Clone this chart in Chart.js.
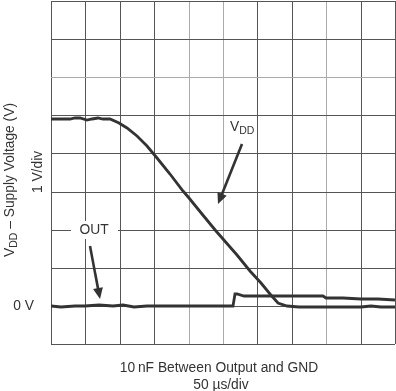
<!DOCTYPE html>
<html>
<head>
<meta charset="utf-8">
<script src="https://cdn.jsdelivr.net/npm/chart.js@4"></script>
<style>
html,body{margin:0;padding:0;background:#fff;}
#wrap{width:396px;height:391px;}
</style>
</head>
<body>
<div id="wrap"><canvas id="c" width="396" height="391"></canvas></div>
<script>
// time in divisions (50 µs/div), voltage in V (1 V/div)
const vddTime = [0, 0.25, 0.55, 0.7, 0.85, 1.05, 1.2, 1.37, 1.5, 1.72, 1.98, 2.21, 2.5, 2.79, 3.08, 3.45, 3.84, 4.01, 4.4, 4.8, 5.0, 5.4, 5.78, 6.1, 6.37, 6.6, 6.86, 7.2, 7.6, 8.0, 8.5, 9.0, 9.3, 9.6, 10];
const vddVolts = [4.9, 4.9, 4.9, 4.93, 4.92, 4.87, 4.9, 4.93, 4.9, 4.9, 4.79, 4.66, 4.45, 4.19, 3.87, 3.45, 3.01, 2.83, 2.4, 1.96, 1.75, 1.33, 0.92, 0.6, 0.31, 0.08, 0.0, -0.03, -0.02, -0.03, -0.03, -0.02, 0.0, -0.03, -0.02];
const outTime = [0, 0.3, 0.7, 1.0, 1.4, 1.8, 2.1, 2.4, 2.8, 3.2, 3.6, 4.0, 4.4, 4.8, 5.1, 5.29, 5.36, 5.42, 5.6, 6.0, 6.5, 7.0, 7.5, 7.9, 8.0, 8.5, 9.0, 9.5, 10];
const outVolts = [0, -0.02, 0.01, 0, 0.02, 0.01, 0.02, -0.02, 0.01, -0.01, 0.01, 0, -0.01, 0.01, 0, 0, 0.3, 0.31, 0.27, 0.27, 0.26, 0.27, 0.26, 0.26, 0.21, 0.2, 0.19, 0.18, 0.16];
const xTicks = [0, 1, 2, 3, 4, 5, 6, 7, 8, 9, 10];
const yTicks = [-1, 0, 1, 2, 3, 4, 5, 6, 7, 8];

const FONT = '"Liberation Sans", Arial, Helvetica, sans-serif';
const INK = '#333';
const FS = '13.8px ';
const FSUB = '10.5px ';
const lightX = [4, 5, 8];
const lightY = [6];

const annot = {
  id: 'annot',
  beforeDatasetsDraw(chart) {
    const {ctx, scales:{x, y}} = chart;
    ctx.save();
    ctx.fillStyle = '#fff';
    const cx = x.getPixelForValue(1.25), cy = y.getPixelForValue(2);
    ctx.fillRect(cx - 23, cy - 9, 47, 18);
    ctx.restore();
  },
  afterDraw(chart) {
    const {ctx, scales:{x, y}, chartArea} = chart;
    ctx.save();
    ctx.fillStyle = INK;
    ctx.strokeStyle = INK;
    // OUT label
    ctx.font = FS + FONT;
    ctx.textAlign = 'center';
    ctx.textBaseline = 'middle';
    ctx.fillText('OUT', x.getPixelForValue(1.25), y.getPixelForValue(2));
    // VDD label
    ctx.textAlign = 'left';
    ctx.textBaseline = 'alphabetic';
    const vx = x.getPixelForValue(5.2), vy = y.getPixelForValue(4.58);
    ctx.font = FS + FONT;
    ctx.fillText('V', vx, vy);
    const vw = ctx.measureText('V').width;
    ctx.font = FSUB + FONT;
    ctx.fillText('DD', vx + vw, vy + 3);
    // arrows
    function arrow(x0, y0, x1, y1) {
      const px0 = x.getPixelForValue(x0), py0 = y.getPixelForValue(y0);
      const px1 = x.getPixelForValue(x1), py1 = y.getPixelForValue(y1);
      const a = Math.atan2(py1 - py0, px1 - px0);
      const L = 11, W = 5;
      ctx.lineWidth = 2.6;
      ctx.beginPath();
      ctx.moveTo(px0, py0);
      ctx.lineTo(px1 - Math.cos(a) * (L - 2), py1 - Math.sin(a) * (L - 2));
      ctx.stroke();
      ctx.beginPath();
      ctx.moveTo(px1, py1);
      ctx.lineTo(px1 - Math.cos(a) * L - Math.sin(a) * W, py1 - Math.sin(a) * L + Math.cos(a) * W);
      ctx.lineTo(px1 - Math.cos(a) * L + Math.sin(a) * W, py1 - Math.sin(a) * L - Math.cos(a) * W);
      ctx.closePath();
      ctx.fill();
    }
    arrow(5.55, 4.24, 4.85, 2.67);
    arrow(1.13, 1.57, 1.42, 0.18);
    // 0 V
    ctx.font = FS + FONT;
    ctx.textAlign = 'right';
    ctx.textBaseline = 'middle';
    ctx.fillText('0 V', 34, y.getPixelForValue(0));
    // bottom texts
    ctx.textAlign = 'center';
    ctx.textBaseline = 'alphabetic';
    const mid = (chartArea.left + chartArea.right) / 2 - 4;
    ctx.fillText('10\u2009nF Between Output and GND', mid, 372);
    ctx.fillText('50 \u00b5s/div', mid + 2, 389);
    // rotated: 1 V/div
    ctx.save();
    ctx.translate(42, 172);
    ctx.rotate(-Math.PI / 2);
    ctx.textAlign = 'center';
    ctx.fillText('1 V/div', 0, 0);
    ctx.restore();
    // rotated y title with subscript
    ctx.save();
    ctx.translate(14, 180);
    ctx.rotate(-Math.PI / 2);
    ctx.textAlign = 'left';
    ctx.font = FS + FONT;
    const p1 = 'V';
    const p3 = ' \u2013 Supply Voltage (V)';
    const w1 = ctx.measureText(p1).width;
    const w3 = ctx.measureText(p3).width;
    ctx.font = FSUB + FONT;
    const w2 = ctx.measureText('DD').width;
    let sx = -(w1 + w2 + w3) / 2;
    ctx.font = FS + FONT;
    ctx.fillText(p1, sx, 0);
    ctx.font = FSUB + FONT;
    ctx.fillText('DD', sx + w1, 3);
    ctx.font = FS + FONT;
    ctx.fillText(p3, sx + w1 + w2, 0);
    ctx.restore();
    ctx.restore();
  }
};

new Chart(document.getElementById('c'), {
  type: 'line',
  data: {
    datasets: [
      { label: 'VDD', data: vddTime.map((t, i) => ({x: t, y: vddVolts[i]})), borderColor: INK, borderWidth: 2.8, pointRadius: 0, tension: 0, fill: false },
      { label: 'OUT', data: outTime.map((t, i) => ({x: t, y: outVolts[i]})), borderColor: INK, borderWidth: 2.8, pointRadius: 0, tension: 0, fill: false }
    ]
  },
  options: {
    responsive: false,
    animation: false,
    events: [],
    layout: { padding: { left: 51, right: 1, top: 1, bottom: 47 } },
    plugins: { legend: { display: false }, tooltip: { enabled: false }, title: { display: false } },
    scales: {
      x: {
        type: 'linear', min: 0, max: 10, alignToPixels: true,
        afterBuildTicks: s => { s.ticks = xTicks.map(v => ({value: v})); },
        ticks: { display: false },
        grid: { drawTicks: false, lineWidth: 1, color: c => lightX.includes(c.tick && c.tick.value) ? '#aaa' : '#555' },
        border: { display: false }
      },
      y: {
        type: 'linear', min: -1, max: 8, alignToPixels: true,
        afterBuildTicks: s => { s.ticks = yTicks.map(v => ({value: v})); },
        ticks: { display: false },
        grid: { drawTicks: false, lineWidth: 1, color: c => lightY.includes(c.tick && c.tick.value) ? '#aaa' : '#555' },
        border: { display: false }
      }
    }
  },
  plugins: [annot]
});
</script>
</body>
</html>
